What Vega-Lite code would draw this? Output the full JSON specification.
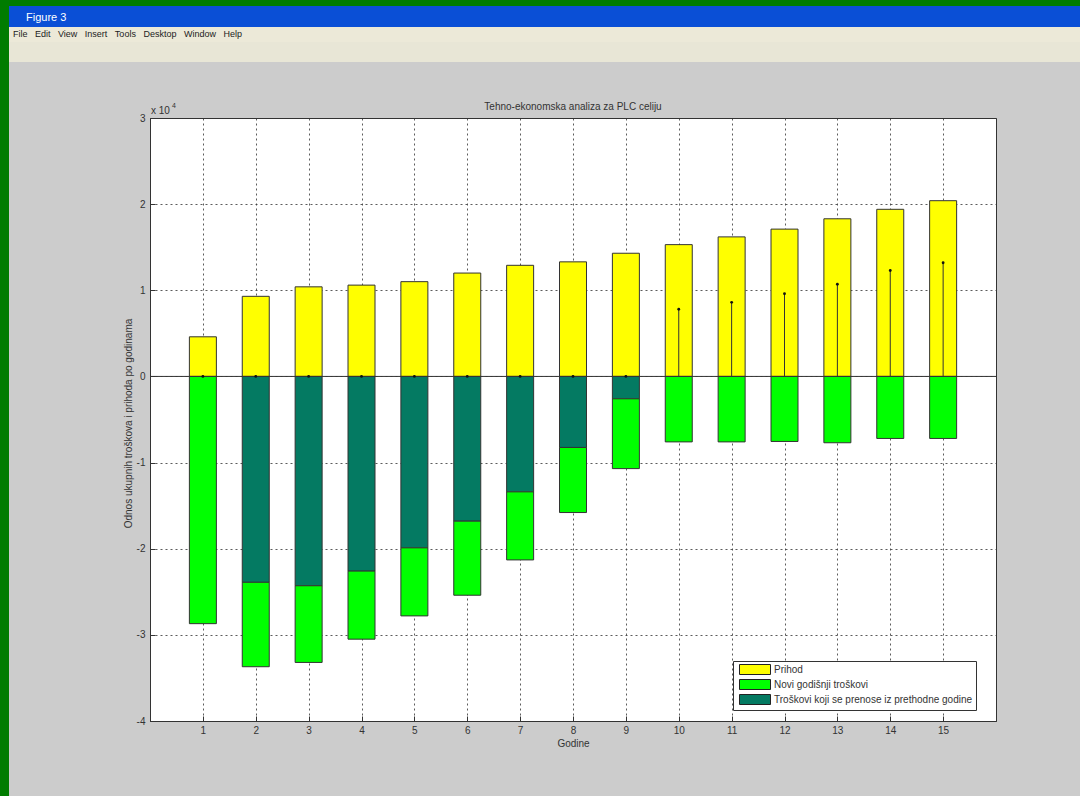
{
"$schema":"https://vega.github.io/schema/vega-lite/v6.json",
"background":"#cccccc","padding":0,"spacing":0,
"config":{"font":"Liberation Sans","concat":{"spacing":0},"axis":{"labelFont":"Liberation Sans","titleFont":"Liberation Sans"},"title":{"font":"Liberation Sans"}},
"datasets":{
"stubovi":[
{"godina":1,"serija":"Prihod","red":0,"iznos":4600},{"godina":2,"serija":"Prihod","red":0,"iznos":9300},{"godina":3,"serija":"Prihod","red":0,"iznos":10400},{"godina":4,"serija":"Prihod","red":0,"iznos":10600},{"godina":5,"serija":"Prihod","red":0,"iznos":11000},{"godina":6,"serija":"Prihod","red":0,"iznos":12000},{"godina":7,"serija":"Prihod","red":0,"iznos":12900},{"godina":8,"serija":"Prihod","red":0,"iznos":13300},{"godina":9,"serija":"Prihod","red":0,"iznos":14300},{"godina":10,"serija":"Prihod","red":0,"iznos":15300},{"godina":11,"serija":"Prihod","red":0,"iznos":16200},{"godina":12,"serija":"Prihod","red":0,"iznos":17100},{"godina":13,"serija":"Prihod","red":0,"iznos":18300},{"godina":14,"serija":"Prihod","red":0,"iznos":19400},{"godina":15,"serija":"Prihod","red":0,"iznos":20400},
{"godina":2,"serija":"Troškovi koji se prenose iz prethodne godine","red":1,"iznos":-23900},{"godina":3,"serija":"Troškovi koji se prenose iz prethodne godine","red":1,"iznos":-24300},{"godina":4,"serija":"Troškovi koji se prenose iz prethodne godine","red":1,"iznos":-22600},{"godina":5,"serija":"Troškovi koji se prenose iz prethodne godine","red":1,"iznos":-19900},{"godina":6,"serija":"Troškovi koji se prenose iz prethodne godine","red":1,"iznos":-16800},{"godina":7,"serija":"Troškovi koji se prenose iz prethodne godine","red":1,"iznos":-13400},{"godina":8,"serija":"Troškovi koji se prenose iz prethodne godine","red":1,"iznos":-8250},{"godina":9,"serija":"Troškovi koji se prenose iz prethodne godine","red":1,"iznos":-2600},
{"godina":1,"serija":"Novi godišnji troškovi","red":2,"iznos":-28700},{"godina":2,"serija":"Novi godišnji troškovi","red":2,"iznos":-9800},{"godina":3,"serija":"Novi godišnji troškovi","red":2,"iznos":-8900},{"godina":4,"serija":"Novi godišnji troškovi","red":2,"iznos":-7900},{"godina":5,"serija":"Novi godišnji troškovi","red":2,"iznos":-7900},{"godina":6,"serija":"Novi godišnji troškovi","red":2,"iznos":-8600},{"godina":7,"serija":"Novi godišnji troškovi","red":2,"iznos":-7900},{"godina":8,"serija":"Novi godišnji troškovi","red":2,"iznos":-7550},{"godina":9,"serija":"Novi godišnji troškovi","red":2,"iznos":-8100},{"godina":10,"serija":"Novi godišnji troškovi","red":2,"iznos":-7600},{"godina":11,"serija":"Novi godišnji troškovi","red":2,"iznos":-7600},{"godina":12,"serija":"Novi godišnji troškovi","red":2,"iznos":-7550},{"godina":13,"serija":"Novi godišnji troškovi","red":2,"iznos":-7700},{"godina":14,"serija":"Novi godišnji troškovi","red":2,"iznos":-7200},{"godina":15,"serija":"Novi godišnji troškovi","red":2,"iznos":-7200}
],
"dobit":[
{"godina":1,"dobit":0},{"godina":2,"dobit":0},{"godina":3,"dobit":0},{"godina":4,"dobit":0},{"godina":5,"dobit":0},{"godina":6,"dobit":0},{"godina":7,"dobit":0},{"godina":8,"dobit":0},{"godina":9,"dobit":0},{"godina":10,"dobit":7800},{"godina":11,"dobit":8600},{"godina":12,"dobit":9600},{"godina":13,"dobit":10700},{"godina":14,"dobit":12300},{"godina":15,"dobit":13200}
]},
"hconcat":[
{"width":9,"height":796,"data":{"values":[{}]},"mark":{"type":"point","opacity":0},"encoding":{},"view":{"fill":"#007c00","stroke":null}},
{"spacing":0,"vconcat":[
{"width":1071,"height":6,"data":{"values":[{}]},"mark":{"type":"point","opacity":0},"encoding":{},"view":{"fill":"#007c00","stroke":null}},
{"width":1071,"height":21,"title":{"text":"Figure 3","anchor":"start","offset":-17,"dx":17,"fontSize":11,"fontWeight":"normal","color":"#ffffff"},"data":{"values":[{}]},"mark":{"type":"point","opacity":0},"encoding":{},"view":{"fill":"#0a4fd6","stroke":null}},
{"width":1071,"height":15,"title":{"text":"File\u00a0\u00a0\u00a0Edit\u00a0\u00a0\u00a0View\u00a0\u00a0\u00a0Insert\u00a0\u00a0\u00a0Tools\u00a0\u00a0\u00a0Desktop\u00a0\u00a0\u00a0Window\u00a0\u00a0\u00a0Help","anchor":"start","offset":-12,"dx":4,"fontSize":9,"fontWeight":"normal","color":"#222222"},"data":{"values":[{}]},"mark":{"type":"point","opacity":0},"encoding":{},"view":{"fill":"#ece9d8","stroke":null}},
{"width":1071,"height":20,"data":{"values":[{}]},"mark":{"type":"point","opacity":0},"encoding":{},"view":{"fill":"#e8e6d6","stroke":null}},
{"width":1071,"height":39,"data":{"values":[{}]},"mark":{"type":"point","opacity":0},"encoding":{},"view":{"fill":"#cccccc","stroke":null}},
{"spacing":0,"hconcat":[
{"width":113,"height":600,"data":{"values":[{}]},"mark":{"type":"point","opacity":0},"encoding":{},"view":{"fill":"#cccccc","stroke":null}},
{"width":846,"height":603,
"view":{"fill":"#ffffff","stroke":"#333333"},
"title":{"text":"Tehno-ekonomska analiza za PLC celiju","fontSize":10,"fontWeight":"normal","color":"#333333","offset":-10},
"layer":[
{"data":{"name":"stubovi"},
"mark":{"type":"bar","orient":"vertical","size":27,"stroke":"#333333","strokeWidth":1},
"encoding":{
"x":{"field":"godina","type":"quantitative","scale":{"domain":[0,16],"nice":false,"padding":0},
"axis":{"values":[1,2,3,4,5,6,7,8,9,10,11,12,13,14,15],"title":"Godine","titleFontSize":10,"titleFontWeight":"normal","titleColor":"#333333","titlePadding":3,"labelFontSize":10,"labelColor":"#333333","labelPadding":9,"tickSize":-5,"tickColor":"#333333","domainColor":"#333333","grid":true,"gridColor":"#333333","gridDash":[2,3],"gridOpacity":0.8}},
"y":{"field":"iznos","type":"quantitative","stack":"zero","scale":{"domain":[-40000,30000],"nice":false},
"axis":{"values":[-40000,-30000,-20000,-10000,0,10000,20000,30000],"labelExpr":"datum.value/10000","title":"Odnos ukupnih troškova i prihoda po godinama","titleY":305,"titleFontSize":10,"titleFontWeight":"normal","titleColor":"#333333","titlePadding":3,"labelFontSize":10,"labelColor":"#333333","labelPadding":10,"tickSize":-5,"tickColor":"#333333","domainColor":"#333333","grid":true,"gridColor":"#333333","gridDash":[2,3],"gridOpacity":0.8}},
"order":{"field":"red","type":"ordinal"},
"color":{"field":"serija","type":"nominal","scale":{"domain":["Prihod","Novi godišnji troškovi","Troškovi koji se prenose iz prethodne godine"],"range":["#ffff00","#00ff00","#047a62"]},
"legend":{"title":null,"orient":"none","legendX":733,"legendY":661,"fillColor":"#ffffff","strokeColor":"#333333","padding":3,"labelFontSize":10,"labelColor":"#333333","labelLimit":300,"symbolType":"M-0.4,-1H5.8V1H-0.4Z","symbolSize":100,"symbolStrokeColor":"#222222","symbolStrokeWidth":1,"symbolOpacity":1,"rowPadding":0,"labelOffset":27}}
}},
{"data":{"values":[{"y":0}]},"mark":{"type":"rule","color":"#333333","strokeWidth":1},"encoding":{"y":{"field":"y","type":"quantitative"}}},
{"data":{"name":"dobit"},"mark":{"type":"rule","color":"#333333","strokeWidth":1},"encoding":{"x":{"field":"godina","type":"quantitative"},"y":{"field":"dobit","type":"quantitative"},"y2":{"datum":0}}},
{"data":{"name":"dobit"},"mark":{"type":"point","filled":true,"color":"#111111","size":8,"opacity":1},"encoding":{"x":{"field":"godina","type":"quantitative"},"y":{"field":"dobit","type":"quantitative"}}},
{"data":{"values":[{"godina":0,"y":30000,"t":"x 10"}]},"mark":{"type":"text","align":"left","baseline":"bottom","fontSize":10,"color":"#333333","dx":1,"dy":-2,"clip":false},"encoding":{"x":{"field":"godina","type":"quantitative"},"y":{"field":"y","type":"quantitative"},"text":{"field":"t"}}},
{"data":{"values":[{"godina":0,"y":30000,"t":"4"}]},"mark":{"type":"text","align":"left","baseline":"bottom","fontSize":7,"color":"#333333","dx":22,"dy":-9,"clip":false},"encoding":{"x":{"field":"godina","type":"quantitative"},"y":{"field":"y","type":"quantitative"},"text":{"field":"t"}}}
]}
]}
]}
]}
